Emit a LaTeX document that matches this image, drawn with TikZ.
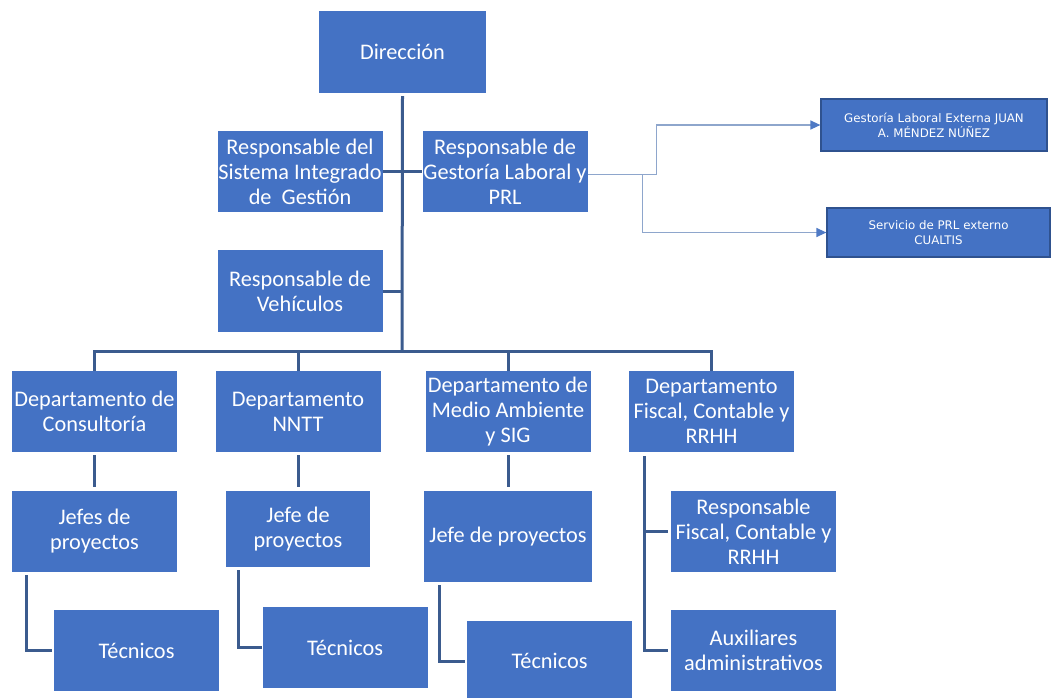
\documentclass[tikz,border=0pt]{standalone}
\usepackage{fontspec}
\setmainfont{Carlito}
\newfontfamily\extfont{DejaVu Sans}
\usetikzlibrary{arrows.meta,positioning}
\definecolor{orgblue}{HTML}{4472C4}
\definecolor{orgedge}{HTML}{2F528F}
\definecolor{orgline}{HTML}{3B5B8E}
\definecolor{extline}{HTML}{8EA6CC}

\begin{document}
\begin{tikzpicture}[x=1pt,y=-1pt,
  unit/.style={fill=orgblue,text=white,align=center,inner sep=0pt,
    minimum width=165pt,minimum height=81pt,
    font=\fontsize{22.3}{25}\selectfont},
  extunit/.style={unit,draw=orgedge,line width=1.2pt,
    font=\extfont\fontsize{11.8}{15}\selectfont},
  link/.style={orgline,line width=3pt},
  extlink/.style={extline,line width=1.3pt,
    -{Triangle[length=10pt,width=9pt,color=orgblue!85!extline]}}
]
  \useasboundingbox (0,0) rectangle (1052,697);

  % top
  \node[unit,minimum width=167pt,minimum height=82pt] (dir) at (402.5,52) {Dirección};
  \node[unit] (sig) at (300,171.5) {Responsable del\\Sistema Integrado\\de~ Gestión};
  \node[unit] (gest) at (505,171.5) {Responsable de\\Gestoría Laboral y\\PRL};
  \node[unit,minimum height=82pt] (veh) at (300,291) {Responsable de\\Vehículos};
  \coordinate (hub) at (402,351);

  % external services
  \node[extunit,minimum width=226pt,minimum height=52pt] (gestext) at (934,125)
    {Gestoría Laboral Externa JUAN\\A. MÉNDEZ NÚÑEZ};
  \node[extunit,minimum width=223pt,minimum height=49pt] (prlext) at (938.5,232.5)
    {Servicio de PRL externo\\CUALTIS};

  % departments
  \node[unit] (consul) at (94.5,411.5) {Departamento de\\Consultoría};
  \node[unit] (nntt) at (298,411.5) {Departamento\\NNTT};
  \node[unit] (medio) at (508,411.5) {Departamento de\\Medio Ambiente\\y SIG};
  \node[unit] (fiscal) at (711.5,411.5) {Departamento\\Fiscal, Contable y\\RRHH};

  % second level
  \node[unit] (jefeA) at (94.5,531.5) {Jefes de\\proyectos};
  \node[unit,minimum width=144pt,minimum height=76pt] (jefeB) at (298,529) {Jefe de\\proyectos};
  \node[unit,minimum width=168pt,minimum height=91pt] (jefeC) at (508,536.5) {Jefe de proyectos};
  \node[unit] (respfis) at (753.5,531.5) {Responsable\\Fiscal, Contable y\\RRHH};

  % third level
  \node[unit] (tecA) at (136.5,650.5) {Técnicos};
  \node[unit] (tecB) at (345,647.5) {Técnicos};
  \node[unit,minimum height=80pt] (tecC) at (549.5,661) {Técnicos};
  \node[unit] (aux) at (753.5,650.5) {Auxiliares\\administrativos};

  % connectors
  \draw[link] ([yshift=-3pt]dir.south) -- (hub);
  \draw[link] (sig.east) -- (gest.west);
  \draw[link] (veh.east) -- (veh.east -| hub);
  \draw[link] (consul.north) |- (hub) -| (fiscal.north);
  \draw[link] (nntt.north) -- (nntt.north |- hub);
  \draw[link] (medio.north) -- (medio.north |- hub);

  \draw[link] ([yshift=-3pt]consul.south) -- ([yshift=4pt]jefeA.north);
  \draw[link] ([yshift=-3pt]nntt.south) -- ([yshift=4pt]jefeB.north);
  \draw[link] ([yshift=-3pt]medio.south) -- ([yshift=4pt]jefeC.north);

  \draw[link] ([xshift=15pt,yshift=-3pt]jefeA.south west) |- ([xshift=-2pt]tecA.west);
  \draw[link] ([xshift=13pt,yshift=-3pt]jefeB.south west) |- (tecB.west);
  \draw[link] ([xshift=16pt,yshift=-3pt]jefeC.south west) |- ([xshift=-2pt]tecC.west);
  \draw[link] ([xshift=16pt,yshift=-4pt]fiscal.south west) |- ([xshift=-3pt]respfis.west);
  \draw[link] ([xshift=16pt,yshift=-4pt]fiscal.south west) |- ([xshift=-3pt]aux.west);

  \draw[extlink] ([yshift=-3pt]gest.east) -- ++(69,0) |- (gestext.west);
  \draw[extlink] ([yshift=-3pt]gest.east) -- ++(55,0) |- (prlext.west);
\end{tikzpicture}
\end{document}
